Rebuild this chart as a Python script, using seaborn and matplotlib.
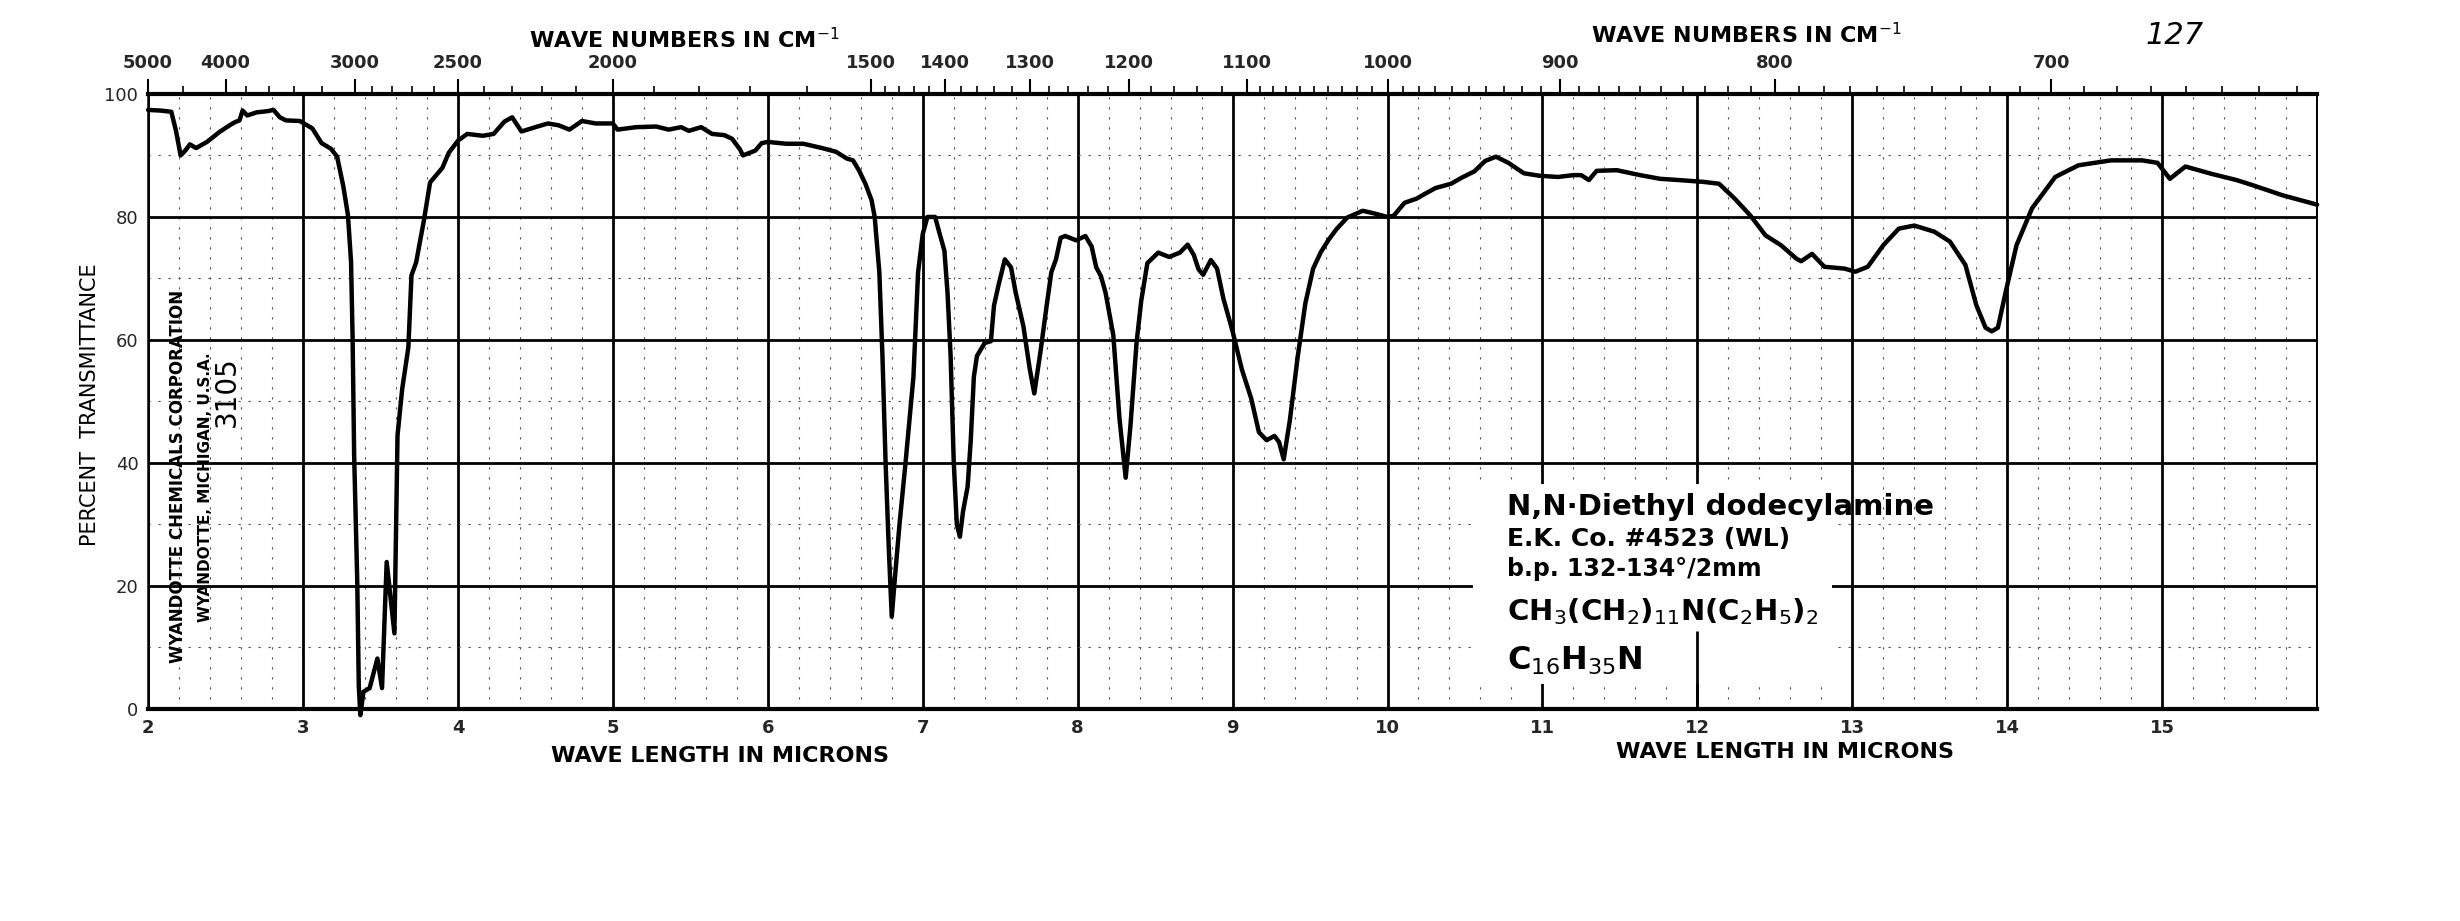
import pandas as pd
import seaborn as sns
import matplotlib.pyplot as plt
from matplotlib.ticker import MultipleLocator, FixedLocator
from matplotlib.patches import Rectangle

# spectrum (wavelength in microns, percent transmittance)
wavelength = [
    2.00, 2.08, 2.15, 2.18, 2.21, 2.24, 2.27, 2.31, 2.38, 2.46, 2.52, 2.56, 2.59, 2.61,
    2.64, 2.70, 2.77, 2.81, 2.85, 2.89, 2.98, 3.06, 3.12, 3.18, 3.22, 3.26, 3.29, 3.31,
    3.32, 3.33, 3.35, 3.36, 3.37, 3.39, 3.43, 3.48, 3.51, 3.54, 3.57, 3.59, 3.61, 3.64,
    3.68, 3.70, 3.73, 3.78, 3.82, 3.90, 3.94, 4.00, 4.06, 4.16, 4.23, 4.30, 4.35, 4.41,
    4.50, 4.58, 4.65, 4.72, 4.80, 4.89, 5.00, 5.03, 5.15, 5.28, 5.36, 5.44, 5.49, 5.57,
    5.64, 5.72, 5.77, 5.82, 5.84, 5.88, 5.92, 5.96, 6.00, 6.12, 6.23, 6.35, 6.44, 6.51,
    6.55, 6.59, 6.63, 6.67, 6.69, 6.72, 6.74, 6.76, 6.78, 6.80, 6.82, 6.85, 6.89, 6.94,
    6.97, 7.00, 7.03, 7.08, 7.11, 7.14, 7.16, 7.18, 7.20, 7.22, 7.24, 7.26, 7.29, 7.31,
    7.33, 7.35, 7.40, 7.44, 7.46, 7.49, 7.53, 7.57, 7.60, 7.65, 7.69, 7.72, 7.76, 7.80,
    7.83, 7.86, 7.89, 7.92, 7.99, 8.05, 8.09, 8.12, 8.15, 8.18, 8.23, 8.27, 8.31, 8.34,
    8.38, 8.41, 8.45, 8.52, 8.59, 8.66, 8.71, 8.75, 8.78, 8.81, 8.86, 8.90, 8.94, 9.00,
    9.06, 9.12, 9.17, 9.22, 9.27, 9.30, 9.33, 9.37, 9.42, 9.47, 9.52, 9.57, 9.62, 9.67,
    9.74, 9.84, 9.91, 10.00, 10.04, 10.11, 10.19, 10.23, 10.31, 10.41, 10.48, 10.56,
    10.63, 10.70, 10.78, 10.88, 10.98, 11.10, 11.20, 11.25, 11.30, 11.35, 11.48, 11.63,
    11.76, 11.88, 12.04, 12.14, 12.24, 12.34, 12.44, 12.54, 12.64, 12.67, 12.74, 12.82,
    12.95, 13.02, 13.10, 13.20, 13.30, 13.40, 13.53, 13.63, 13.73, 13.80, 13.86, 13.90,
    13.94, 13.99, 14.06, 14.16, 14.31, 14.46, 14.67, 14.87, 14.97, 15.05, 15.15, 15.32,
    15.48, 15.58, 15.78, 16.00,
]
transmittance = [
    97.4, 97.3, 97.1, 94.0, 90.0, 90.8, 91.8, 91.2, 92.2, 93.8, 94.8, 95.4, 95.7, 97.3,
    96.5, 97.0, 97.2, 97.4, 96.2, 95.7, 95.6, 94.4, 92.0, 91.1, 89.8, 85.0, 80.3, 72.7,
    60.4, 41.3, 20.8, 3.7, -1.0, 2.8, 3.4, 8.2, 3.4, 23.9, 17.0, 12.3, 44.5, 52.0,
    58.8, 70.5, 72.6, 79.4, 85.6, 88.0, 90.4, 92.4, 93.5, 93.2, 93.5, 95.5, 96.2, 93.9,
    94.6, 95.2, 94.9, 94.2, 95.6, 95.2, 95.2, 94.2, 94.6, 94.7, 94.2, 94.6, 94.0, 94.6,
    93.5, 93.3, 92.7, 91.0, 90.0, 90.4, 90.8, 92.0, 92.2, 91.9, 91.9, 91.2, 90.6, 89.5,
    89.2, 87.5, 85.4, 82.7, 80.0, 71.0, 57.4, 40.3, 26.7, 15.0, 21.2, 30.0, 40.3, 54.0,
    71.0, 77.2, 80.0, 80.0, 77.2, 74.5, 67.7, 57.4, 40.3, 30.0, 28.0, 32.1, 36.2, 43.7,
    54.0, 57.4, 59.5, 59.8, 65.6, 69.0, 73.1, 71.8, 67.7, 62.2, 55.4, 51.3, 58.1, 65.6,
    71.0, 73.1, 76.6, 76.9, 76.2, 76.9, 75.2, 71.8, 70.4, 67.7, 60.8, 47.2, 37.6, 45.8,
    59.5, 66.3, 72.5, 74.2, 73.5, 74.2, 75.5, 73.8, 71.5, 70.6, 73.0, 71.6, 66.8, 61.4,
    55.2, 50.5, 45.0, 43.7, 44.4, 43.4, 40.6, 47.0, 57.2, 66.0, 71.6, 74.3, 76.3, 78.0,
    79.9, 81.0, 80.6, 80.0, 80.2, 82.3, 83.0, 83.6, 84.7, 85.4, 86.4, 87.4,
    89.1, 89.8, 88.8, 87.1, 86.7, 86.5, 86.8, 86.8, 86.0, 87.5, 87.6, 86.8,
    86.2, 86.0, 85.7, 85.4, 83.0, 80.3, 77.0, 75.4, 73.2, 72.8, 74.0, 71.9,
    71.6, 71.1, 71.9, 75.4, 78.1, 78.6, 77.6, 76.0, 72.2, 65.7, 62.0, 61.4,
    62.0, 67.8, 75.4, 81.4, 86.5, 88.4, 89.2, 89.2, 88.8, 86.2, 88.2, 87.0,
    86.0, 85.2, 83.5, 82.0,
]

micron_ticks = list(range(2, 17))
micron_labels = [str(m) for m in range(2, 16)] + ['']
wavenumber_labels = [5000, 4000, 3000, 2500, 2000, 1500, 1400, 1300, 1200, 1100, 1000, 900, 800, 700]
wavenumber_minor = (list(range(5000, 4000, -500)) + list(range(4000, 3000, -200))
                    + list(range(3000, 1500, -100)) + list(range(1500, 1100, -20))
                    + list(range(1100, 620, -10)))

sns.set_theme(style='white')
plt.rcParams['font.family'] = ['DejaVu Sans']
plt.rcParams['mathtext.fontset'] = 'dejavusans'

fig = plt.figure(figsize=(24.6, 9.21), dpi=100)
ax = fig.add_axes([0.0602, 0.2302, 0.8817, 0.6678])

df = pd.DataFrame({'wavelength': wavelength, 'transmittance': transmittance})
sns.lineplot(data=df, x='wavelength', y='transmittance', ax=ax, color='black',
             lw=3.2, estimator=None, sort=False, zorder=3)
ax.lines[0].set_clip_on(False)

ax.set_xlim(2, 16)
ax.set_ylim(0, 100)
ax.set_xticks(micron_ticks)
ax.set_xticklabels(micron_labels, fontweight='bold', fontsize=13)
ax.set_yticks([0, 20, 40, 60, 80, 100])
ax.set_yticklabels(['0', '20', '40', '60', '80', '100'], fontsize=13)
ax.xaxis.set_minor_locator(MultipleLocator(0.2))
ax.yaxis.set_minor_locator(MultipleLocator(10))
ax.set_axisbelow(True)
ax.grid(which='major', color='black', lw=2.0)
ax.grid(which='minor', color='0.3', lw=0.8, ls=(0, (2, 7)))
ax.tick_params(axis='both', which='both', length=0)
ax.tick_params(axis='x', pad=7)
ax.tick_params(axis='y', pad=7)
ax.set_xlabel('')
ax.set_ylabel('')
for side, w in [('bottom', 3.0), ('left', 1.8), ('right', 1.4)]:
    ax.spines[side].set_color('black')
    ax.spines[side].set_linewidth(w)
ax.spines['top'].set_visible(False)

# blank patch of the paper under the handwritten note
ax.add_patch(Rectangle((10.55, 4), 2.32, 32.5, facecolor='white', edgecolor='none', zorder=1))
ax.vlines(12, 0, 12.7, color='black', lw=2.0, zorder=1.5)

top = ax.twiny()
top.set_xlim(2, 16)
top.set_xticks([1e4 / w for w in wavenumber_labels])
top.set_xticklabels([str(w) for w in wavenumber_labels], fontweight='bold', fontsize=13)
top.xaxis.set_minor_locator(FixedLocator([1e4 / w for w in wavenumber_minor]))
top.tick_params(which='major', direction='out', length=11, width=1.5, pad=5, color='black')
top.tick_params(which='minor', direction='out', length=6, width=1.2, color='black')
for side in ['bottom', 'left', 'right']:
    top.spines[side].set_visible(False)
top.spines['top'].set_color('black')
top.spines['top'].set_linewidth(3.0)

bold = dict(fontweight='bold', color='black')
fig.text(0.278, 0.957, 'WAVE NUMBERS IN CM$^{-1}$', ha='center', va='center', fontsize=16, **bold)
fig.text(0.710, 0.962, 'WAVE NUMBERS IN CM$^{-1}$', ha='center', va='center', fontsize=16, **bold)
fig.text(0.2925, 0.179, 'WAVE LENGTH IN MICRONS', ha='center', va='center', fontsize=16, **bold)
fig.text(0.7255, 0.183, 'WAVE LENGTH IN MICRONS', ha='center', va='center', fontsize=16, **bold)
fig.text(0.0366, 0.561, 'PERCENT  TRANSMITTANCE', rotation=90, ha='center', va='center',
         fontsize=15, color='black')
fig.text(0.0724, 0.483, 'WYANDOTTE CHEMICALS CORPORATION', rotation=90, ha='center',
         va='center', fontsize=12, **bold)
fig.text(0.0837, 0.471, 'WYANDOTTE, MICHIGAN, U.S.A.', rotation=90, ha='center',
         va='center', fontsize=11, **bold)
fig.text(0.0923, 0.575, '3105', rotation=90, ha='center', va='center', fontsize=20, color='black')
fig.text(0.884, 0.961, '127', ha='center', va='center', fontsize=22, style='italic', color='black')

hand = dict(color='black', ha='left', va='center', fontweight='bold')
ax.text(10.77, 32.8, 'N,N·Diethyl dodecylamine', fontsize=21, **hand)
ax.text(10.77, 27.6, 'E.K. Co. #4523 (WL)', fontsize=18, **hand)
ax.text(10.77, 22.8, 'b.p. 132-134°/2mm', fontsize=17, **hand)
ax.text(10.77, 15.9, 'CH$_3$(CH$_2$)$_{11}$N(C$_2$H$_5$)$_2$', fontsize=21, **hand)
ax.text(10.77, 7.8, 'C$_{16}$H$_{35}$N', fontsize=23, **hand)

fig.savefig('out.png', dpi=100)
